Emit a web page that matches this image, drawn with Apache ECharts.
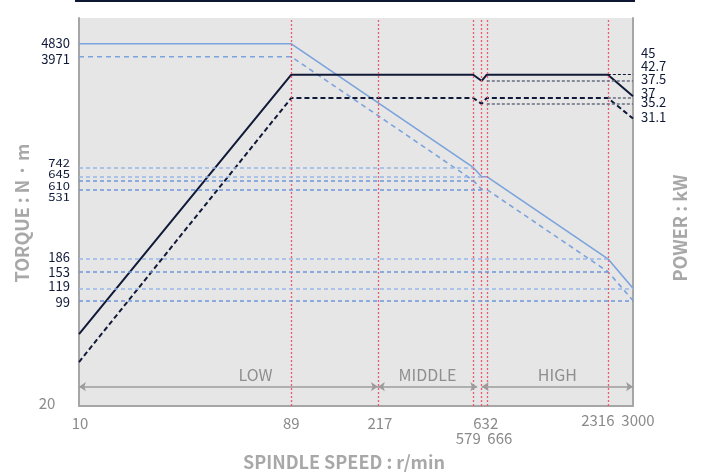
<!DOCTYPE html>
<html>
<head>
<meta charset="utf-8">
<script src="https://cdn.jsdelivr.net/npm/echarts@6/dist/echarts.min.js"></script>
<style>
html,body{margin:0;padding:0;background:#ffffff;}
#c{width:705px;height:474px;}
</style>
</head>
<body>
<div id="c"></div>
<script>
// ---- data ----
const speeds    = [10, 89, 579, 632, 666, 2316, 3000];
const torqueS1  = [4830, 4830, 742, 645, 645, 186, 119];
const torqueS6  = [3971, 3971, 610, 531, 531, 153, 99];
const powerS1   = [5.06, 45, 45, 42.7, 45, 45, 37.5];
const powerS6   = [4.0, 37, 37, 35.2, 37, 37, 31.1];
const gearLines = [89, 217, 579, 632, 666, 2316];
const xTicks    = [10, 89, 217, 579, 632, 666, 2316, 3000];
const torqueTicks = [4830, 3971, 742, 645, 610, 531, 186, 153, 119, 99];
const powerTicks  = [45, 42.7, 37.5, 37, 35.2, 31.1];
const powerRefValues = [45, 42.7, 37, 35.2];
const powerRefFrom   = [2316, 666, 2316, 666];
const rangeNames = ['LOW', 'MIDDLE', 'HIGH'];
const rangeFrom  = [10, 217, 632];
const rangeTo    = [217, 603, 3000];
const arrowTorque = 26.8;

// ---- style ----
const FONT = '"Noto Sans CJK JP","Noto Sans",sans-serif';
const BLUE = '#7ba3dc';
const NAVY = '#101a38';
const RED = '#f05a6e';
const AXIS_GRAY = '#a6a6a6';

const torqueRefLines = [];
torqueTicks.slice(2).forEach(function (v) {
  let idx = torqueS1.indexOf(v);
  let isS1 = true;
  if (idx < 0) { idx = torqueS6.indexOf(v); isS1 = false; }
  torqueRefLines.push([
    { coord: [speeds[0], v], lineStyle: { color: isS1 ? '#98b6ea' : '#6f96d8', type: [4, 3], width: 1.5 } },
    { coord: [speeds[idx], v] }
  ]);
});

const powerRefLines = powerRefValues.map(function (v, i) {
  const col = (v === 45) ? NAVY : '#676d80';
  return [
    { coord: [powerRefFrom[i], v], lineStyle: { color: col, type: [3, 2], width: (v === 45 ? 1 : 1.5) } },
    { coord: [3000, v] }
  ];
});

const arrowLines = rangeNames.map(function (n, i) {
  return [{ coord: [rangeFrom[i], arrowTorque] }, { coord: [rangeTo[i], arrowTorque] }];
});

const option = {
  animation: false,
  grid: { left: 79, right: 72, top: 18, bottom: 68, show: true, backgroundColor: '#e6e6e6', borderWidth: 0 },
  xAxis: {
    type: 'log', logBase: 10, min: 10, max: 3000,
    axisLine: { show: true, onZero: false, lineStyle: { color: AXIS_GRAY, width: 2 } },
    axisTick: { show: false }, axisLabel: { show: false }, splitLine: { show: false }
  },
  yAxis: [
    {
      type: 'log', logBase: 10, min: 20, max: 7140, position: 'left',
      axisLine: { show: true, onZero: false, lineStyle: { color: AXIS_GRAY, width: 2 } },
      axisTick: { show: false }, axisLabel: { show: false }, splitLine: { show: false }
    },
    {
      type: 'log', logBase: 10, min: 2.763, max: 72.55, position: 'right',
      axisLine: { show: true, onZero: false, lineStyle: { color: AXIS_GRAY, width: 2 } },
      axisTick: { show: false }, axisLabel: { show: false }, splitLine: { show: false }
    }
  ],
  series: [
    {
      type: 'line', name: 'gear', xAxisIndex: 0, yAxisIndex: 0, data: [], silent: true, z: 1,
      markLine: {
        silent: true, symbol: ['none', 'none'], animation: false,
        label: { show: false },
        data: gearLines.map(function (v) { return { xAxis: v, lineStyle: { color: RED, type: [2, 2], width: 1.3 } }; })
          .concat(torqueRefLines)
      }
    },
    {
      type: 'line', name: 'arrows', xAxisIndex: 0, yAxisIndex: 0, data: [], silent: true, z: 1,
      markLine: {
        silent: true, symbol: ['arrow', 'arrow'], symbolSize: [7, 7], animation: false,
        label: { show: false },
        lineStyle: { color: '#9c9c9c', type: 'solid', width: 1.5 },
        data: arrowLines
      }
    },
    {
      type: 'line', name: 'powerRef', xAxisIndex: 0, yAxisIndex: 1, data: [], silent: true, z: 1,
      markLine: {
        silent: true, symbol: ['none', 'none'], animation: false,
        label: { show: false },
        data: powerRefLines
      }
    },
    {
      type: 'line', name: 'Torque S1', xAxisIndex: 0, yAxisIndex: 0, symbol: 'none', z: 3,
      lineStyle: { color: BLUE, width: 1.6 },
      data: speeds.map(function (s, i) { return [s, torqueS1[i]]; })
    },
    {
      type: 'line', name: 'Torque S6', xAxisIndex: 0, yAxisIndex: 0, symbol: 'none', z: 3,
      lineStyle: { color: BLUE, width: 1.6, type: [5, 4] },
      data: speeds.map(function (s, i) { return [s, torqueS6[i]]; })
    },
    {
      type: 'line', name: 'Power S1', xAxisIndex: 0, yAxisIndex: 1, symbol: 'none', z: 4,
      lineStyle: { color: NAVY, width: 2 },
      data: speeds.map(function (s, i) { return [s, powerS1[i]]; })
    },
    {
      type: 'line', name: 'Power S6', xAxisIndex: 0, yAxisIndex: 1, symbol: 'none', z: 4,
      lineStyle: { color: NAVY, width: 2, type: [5, 3] },
      data: speeds.map(function (s, i) { return [s, powerS6[i]]; })
    }
  ]
};

const chart = echarts.init(document.getElementById('c'), null, { renderer: 'canvas' });
chart.setOption(option);

const px = function (v) { return chart.convertToPixel({ xAxisIndex: 0 }, v); };
const pyT = function (v) { return chart.convertToPixel({ yAxisIndex: 0 }, v); };
const pyP = function (v) { return chart.convertToPixel({ yAxisIndex: 1 }, v); };

function txt(text, x, y, opt) {
  opt = opt || {};
  return {
    type: 'text', x: x, y: y, rotation: opt.rotation || 0, scaleY: opt.scaleY || 1, silent: true, z: 100,
    style: {
      text: text, x: 0, y: 0,
      fill: opt.color || NAVY,
      font: (opt.weight || 'normal') + ' ' + (opt.size || 13) + 'px ' + FONT,
      align: opt.align || 'center', verticalAlign: 'middle'
    }
  };
}

const graphics = [];
// top dark rule
graphics.push({ type: 'rect', silent: true, shape: { x: 75, y: 0, width: 560, height: 2 }, style: { fill: '#0d1733' } });

// torque labels (left)
const torqueLabelDy = [-1, 2.5, -5, -2.5, 5, 7.5, -2, 0, -2.5, 1.5];
torqueTicks.forEach(function (v, i) {
  const squeeze = (i >= 2 && i <= 5) ? 0.85 : 1;
  graphics.push(txt(String(v), 70, pyT(v) + torqueLabelDy[i], { align: 'right', size: 13, scaleY: squeeze }));
});
graphics.push(txt('20', 47, pyT(20) - 3, { size: 15, color: '#8a8a8a' }));

// power labels (right)
const powerLabelDy = [-22, -15, -17, -5, -2, -1.3];
powerTicks.forEach(function (v, i) {
  graphics.push(txt(String(v), 641, pyP(v) + powerLabelDy[i], { align: 'left', size: 13 }));
});

// speed labels (bottom)
const xLabelDx = [1, 0, 2, -5, 4, 13, -10, 5];
const xLabelRow = [423, 423, 423, 438, 423, 438, 420, 420];
xTicks.forEach(function (v, i) {
  graphics.push(txt(String(v), px(v) + xLabelDx[i], xLabelRow[i], { size: 15, color: '#8a8a8a' }));
});

// range names
const rangeDx = [27, 0, 0];
rangeNames.forEach(function (n, i) {
  const mid = Math.sqrt(rangeFrom[i] * rangeTo[i]);
  graphics.push(txt(n, px(mid) + rangeDx[i], pyT(arrowTorque) - 12, { size: 16, color: '#8e8e8e' }));
});

// axis titles
graphics.push(txt('TORQUE : N · m', 22, 213, { size: 18, weight: 'bold', color: '#a8a8a8', rotation: Math.PI / 2 }));
graphics.push(txt('POWER : kW', 680, 228, { size: 18, weight: 'bold', color: '#a8a8a8', rotation: Math.PI / 2 }));
graphics.push(txt('SPINDLE SPEED : r/min', 344, 462, { size: 18, weight: 'bold', color: '#a8a8a8' }));

chart.setOption({ graphic: graphics });
</script>
</body>
</html>
